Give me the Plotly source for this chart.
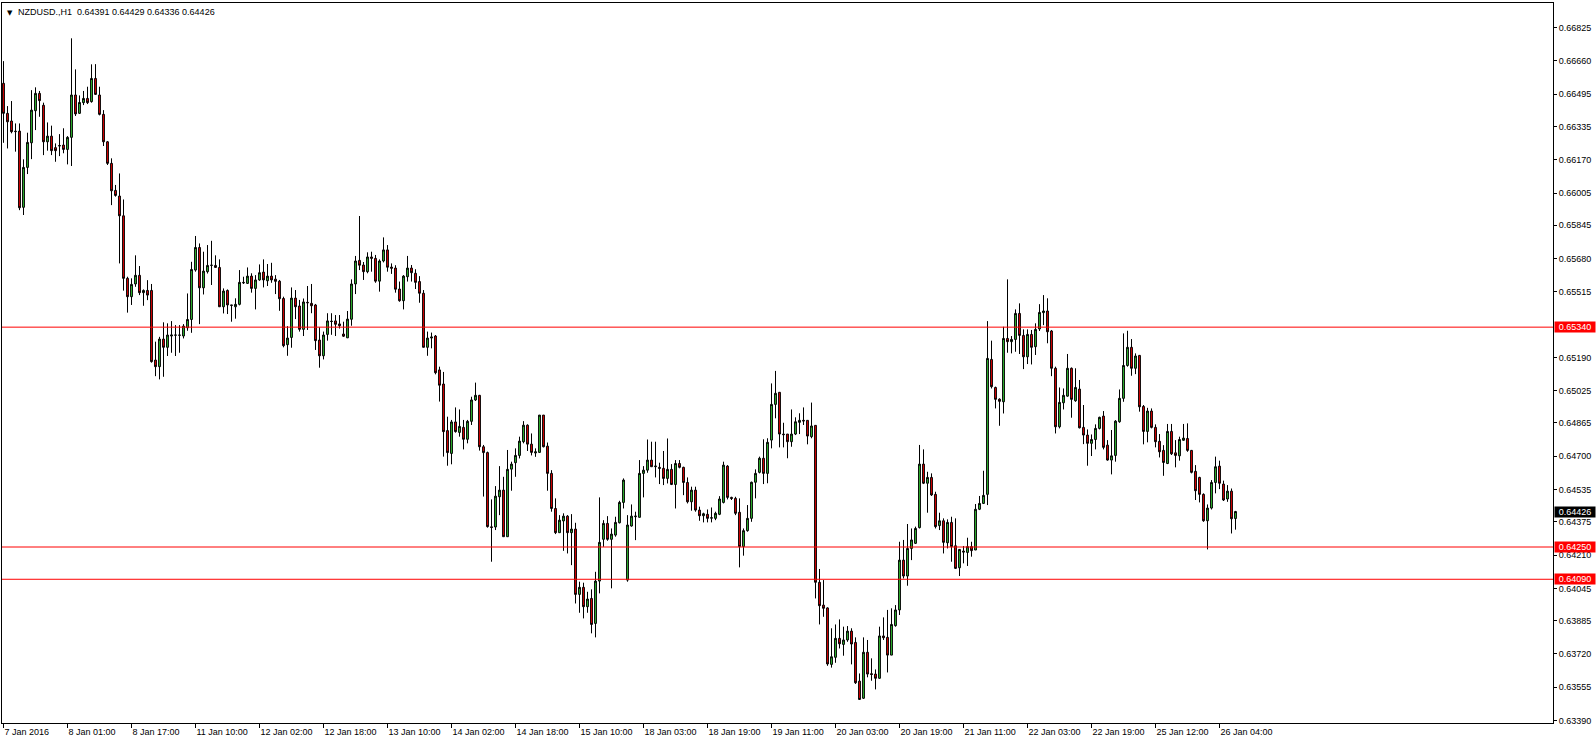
import plotly.graph_objects as go

# ---------------- data (NZDUSD H1) ----------------
opens = [
0.66549,0.66400,0.66362,0.66309,0.66312,0.65934,0.66132,0.66254,0.66413,0.66499,
0.66440,0.66259,0.66287,0.66230,0.66238,0.66243,0.66221,0.66281,0.66491,0.66400,
0.66453,0.66474,0.66458,0.66573,0.66491,0.66395,0.66259,0.66152,0.66018,0.65990,
0.65892,0.65582,0.65491,0.65554,0.65597,0.65511,0.65522,0.65522,0.65177,0.65144,
0.65281,0.65240,0.65296,0.65300,0.65301,0.65296,0.65337,0.65378,0.65623,0.65735,
0.65535,0.65615,0.65646,0.65646,0.65636,0.65441,0.65522,0.65450,0.65441,0.65453,
0.65562,0.65557,0.65593,0.65532,0.65574,0.65613,0.65570,0.65593,0.65578,0.65568,
0.65482,0.65253,0.65289,0.65484,0.65445,0.65329,0.65463,0.65458,0.65450,0.65276,
0.65198,0.65304,0.65370,0.65371,0.65356,0.65306,0.65287,0.65379,0.65554,0.65671,
0.65648,0.65615,0.65688,0.65681,0.65568,0.65668,0.65723,0.65638,0.65633,0.65529,
0.65471,0.65590,0.65633,0.65607,0.65566,0.65508,0.65240,0.65286,0.65296,0.65128,
0.65058,0.64827,0.64714,0.64870,0.64818,0.64843,0.64784,0.64873,0.64979,0.65002,
0.64747,0.64718,0.64350,0.64349,0.64499,0.64532,0.64301,0.64636,0.64668,0.64704,
0.64772,0.64854,0.64760,0.64716,0.64719,0.64904,0.64750,0.64615,0.64441,0.64321,
0.64379,0.64403,0.64321,0.64339,0.64015,0.64050,0.63954,0.63995,0.63871,0.64081,
0.64288,0.64367,0.64288,0.64309,0.64370,0.64471,0.64086,0.64354,0.64400,0.64397,
0.64615,0.64631,0.64681,0.64648,0.64645,0.64640,0.64590,0.64635,0.64560,0.64664,
0.64645,0.64570,0.64474,0.64532,0.64433,0.64405,0.64412,0.64393,0.64392,0.64412,
0.64471,0.64651,0.64496,0.64491,0.64422,0.64252,0.64331,0.64392,0.64571,0.64620,
0.64690,0.64615,0.64780,0.64957,0.65017,0.64810,0.64810,0.64772,0.64810,0.64868,
0.64878,0.64878,0.64797,0.64853,0.64075,0.63962,0.63948,0.63668,0.63703,0.63797,
0.63767,0.63789,0.63833,0.63777,0.63585,0.63500,0.63728,0.63622,0.63620,0.63599,
0.63809,0.63802,0.63714,0.63860,0.63938,0.64185,0.64106,0.64243,0.64268,0.64346,
0.64661,0.64566,0.64595,0.64511,0.64356,0.64380,0.64271,0.64372,0.64256,0.64147,
0.64230,0.64223,0.64252,0.64235,0.64437,0.64466,0.64511,0.65180,0.65041,0.64983,
0.64970,0.65284,0.65268,0.65279,0.65408,0.65299,0.65193,0.65304,0.65243,0.65331,
0.65412,0.65420,0.65321,0.65136,0.64846,0.64965,0.64998,0.65136,0.64975,0.65033,
0.64843,0.64805,0.64764,0.64783,0.64838,0.64899,0.64755,0.64681,0.64704,0.64871,
0.64987,0.65150,0.65240,0.65136,0.65200,0.64947,0.64823,0.64924,0.64843,0.64774,
0.64729,0.64664,0.64823,0.64717,0.64702,0.64779,0.64788,0.64729,0.64625,0.64595,
0.64511,0.64380,0.64443,0.64570,0.64651,0.64562,0.64488,0.64527,0.64391,
]

highs = [
0.66659,0.66436,0.66461,0.66350,0.66350,0.66172,0.66304,0.66515,0.66529,0.66511,
0.66453,0.66355,0.66339,0.66251,0.66297,0.66326,0.66287,0.66772,0.66618,0.66489,
0.66511,0.66532,0.66643,0.66644,0.66532,0.66416,0.66263,0.66177,0.66045,0.66102,
0.65973,0.65590,0.65582,0.65696,0.65643,0.65527,0.65573,0.65554,0.65268,0.65292,
0.65364,0.65359,0.65370,0.65350,0.65350,0.65355,0.65507,0.65664,0.65792,0.65755,
0.65714,0.65747,0.65768,0.65696,0.65676,0.65532,0.65527,0.65450,0.65483,0.65623,
0.65590,0.65636,0.65607,0.65598,0.65651,0.65676,0.65653,0.65659,0.65598,0.65574,
0.65491,0.65345,0.65537,0.65524,0.65475,0.65482,0.65544,0.65554,0.65455,0.65339,
0.65318,0.65409,0.65409,0.65400,0.65400,0.65367,0.65420,0.65577,0.65693,0.65891,
0.65663,0.65711,0.65714,0.65698,0.65676,0.65785,0.65747,0.65656,0.65647,0.65566,
0.65598,0.65693,0.65648,0.65627,0.65593,0.65524,0.65318,0.65313,0.65301,0.65144,
0.65118,0.64896,0.64880,0.64942,0.64932,0.64880,0.64880,0.64995,0.65065,0.65004,
0.64756,0.64723,0.64486,0.64552,0.64651,0.64598,0.64731,0.64673,0.64739,0.64797,
0.64874,0.64858,0.64813,0.64739,0.64904,0.64904,0.64768,0.64631,0.64491,0.64408,
0.64417,0.64408,0.64413,0.64370,0.64078,0.64073,0.64028,0.64040,0.64127,0.64496,
0.64383,0.64403,0.64342,0.64400,0.64479,0.64590,0.64408,0.64461,0.64425,0.64681,
0.64651,0.64783,0.64772,0.64772,0.64668,0.64726,0.64788,0.64661,0.64681,0.64681,
0.64648,0.64595,0.64549,0.64549,0.64450,0.64420,0.64436,0.64446,0.64425,0.64502,
0.64673,0.64656,0.64499,0.64499,0.64491,0.64342,0.64458,0.64574,0.64635,0.64698,
0.64784,0.64789,0.65061,0.65123,0.65017,0.64866,0.64810,0.64932,0.64893,0.64913,
0.64942,0.64878,0.64966,0.64853,0.64141,0.64086,0.63951,0.63847,0.63866,0.63891,
0.63855,0.63858,0.63847,0.63802,0.63623,0.63802,0.63789,0.63698,0.63643,0.63855,
0.63901,0.63938,0.63946,0.63962,0.64276,0.64285,0.64364,0.64342,0.64351,0.64756,
0.64734,0.64623,0.64615,0.64524,0.64420,0.64392,0.64387,0.64400,0.64392,0.64240,
0.64255,0.64296,0.64276,0.64463,0.64503,0.64628,0.65370,0.65273,0.65045,0.64987,
0.65342,0.65577,0.65296,0.65428,0.65458,0.65329,0.65329,0.65326,0.65359,0.65454,
0.65499,0.65483,0.65326,0.65144,0.65041,0.65036,0.65207,0.65140,0.65136,0.65078,
0.64954,0.64833,0.64808,0.64858,0.64896,0.64924,0.64780,0.64830,0.64879,0.65031,
0.65309,0.65322,0.65281,0.65210,0.65202,0.64954,0.64940,0.64937,0.64858,0.64810,
0.64755,0.64860,0.64860,0.64780,0.64797,0.64860,0.64863,0.64731,0.64656,0.64598,
0.64516,0.64461,0.64582,0.64698,0.64678,0.64579,0.64557,0.64540,0.64429,
]

lows = [
0.66254,0.66226,0.66301,0.66210,0.65920,0.65896,0.66099,0.66173,0.66317,0.66383,
0.66193,0.66215,0.66193,0.66160,0.66188,0.66202,0.66147,0.66139,0.66387,0.66397,
0.66441,0.66446,0.66453,0.66491,0.66390,0.66238,0.66144,0.65945,0.65987,0.65656,
0.65521,0.65412,0.65450,0.65540,0.65499,0.65446,0.65474,0.65164,0.65097,0.65081,
0.65094,0.65197,0.65213,0.65197,0.65213,0.65284,0.65322,0.65312,0.65615,0.65355,
0.65502,0.65606,0.65549,0.65635,0.65441,0.65408,0.65405,0.65367,0.65382,0.65448,
0.65554,0.65554,0.65511,0.65428,0.65570,0.65537,0.65544,0.65560,0.65504,0.65421,
0.65240,0.65198,0.65238,0.65380,0.65318,0.65296,0.65326,0.65409,0.65227,0.65139,
0.65180,0.65273,0.65302,0.65296,0.65333,0.65291,0.65286,0.65347,0.65504,0.65623,
0.65574,0.65607,0.65615,0.65560,0.65516,0.65661,0.65615,0.65604,0.65511,0.65466,
0.65428,0.65566,0.65566,0.65529,0.65461,0.65240,0.65198,0.65235,0.65106,0.64971,
0.64698,0.64653,0.64660,0.64817,0.64797,0.64734,0.64764,0.64855,0.64974,0.64728,
0.64500,0.64346,0.64177,0.64334,0.64408,0.64301,0.64301,0.64529,0.64598,0.64689,
0.64764,0.64726,0.64704,0.64697,0.64717,0.64744,0.64529,0.64425,0.64314,0.64321,
0.64231,0.64218,0.64160,0.63970,0.63924,0.63896,0.63924,0.63822,0.63802,0.64020,
0.64251,0.64281,0.64045,0.64301,0.64367,0.64441,0.64078,0.64351,0.64284,0.64397,
0.64496,0.64618,0.64648,0.64595,0.64562,0.64557,0.64565,0.64557,0.64441,0.64640,
0.64507,0.64466,0.64430,0.64425,0.64380,0.64372,0.64372,0.64372,0.64383,0.64408,
0.64466,0.64486,0.64483,0.64408,0.64149,0.64207,0.64326,0.64375,0.64491,0.64615,
0.64562,0.64566,0.64739,0.64888,0.64744,0.64744,0.64690,0.64747,0.64805,0.64810,
0.64855,0.64759,0.64789,0.63995,0.63866,0.63904,0.63661,0.63652,0.63676,0.63747,
0.63711,0.63780,0.63668,0.63571,0.63494,0.63497,0.63604,0.63587,0.63544,0.63597,
0.63789,0.63628,0.63714,0.63855,0.63913,0.64094,0.64058,0.64185,0.64265,0.64342,
0.64562,0.64420,0.64503,0.64342,0.64334,0.64218,0.64243,0.64177,0.64141,0.64106,
0.64169,0.64156,0.64202,0.64235,0.64433,0.64463,0.64458,0.65036,0.64937,0.64851,
0.64912,0.65213,0.65210,0.65218,0.65207,0.65132,0.65157,0.65155,0.65202,0.65321,
0.65350,0.65260,0.65097,0.64813,0.64838,0.64932,0.64995,0.64891,0.64970,0.64838,
0.64760,0.64653,0.64701,0.64734,0.64833,0.64734,0.64678,0.64610,0.64673,0.64866,
0.64970,0.65144,0.65099,0.65107,0.64921,0.64759,0.64769,0.64838,0.64744,0.64694,
0.64603,0.64661,0.64706,0.64645,0.64678,0.64777,0.64722,0.64615,0.64483,0.64471,
0.64375,0.64238,0.64436,0.64516,0.64537,0.64478,0.64474,0.64317,0.64336,
]

closes = [
0.66400,0.66358,0.66309,0.66311,0.65932,0.66132,0.66256,0.66416,0.66499,0.66463,
0.66259,0.66287,0.66215,0.66215,0.66240,0.66221,0.66281,0.66491,0.66397,0.66454,
0.66474,0.66453,0.66573,0.66494,0.66395,0.66259,0.66152,0.66016,0.65993,0.65892,
0.65582,0.65491,0.65552,0.65597,0.65511,0.65522,0.65499,0.65169,0.65144,0.65281,
0.65240,0.65301,0.65301,0.65301,0.65300,0.65345,0.65378,0.65626,0.65735,0.65535,
0.65618,0.65646,0.65647,0.65636,0.65441,0.65519,0.65450,0.65448,0.65453,0.65562,
0.65560,0.65593,0.65532,0.65574,0.65610,0.65574,0.65593,0.65574,0.65567,0.65481,
0.65248,0.65286,0.65484,0.65441,0.65329,0.65465,0.65461,0.65446,0.65273,0.65198,
0.65301,0.65371,0.65368,0.65354,0.65347,0.65295,0.65380,0.65554,0.65668,0.65647,
0.65615,0.65688,0.65681,0.65568,0.65668,0.65723,0.65637,0.65632,0.65528,0.65471,
0.65593,0.65633,0.65610,0.65562,0.65508,0.65240,0.65286,0.65291,0.65114,0.65052,
0.64822,0.64718,0.64870,0.64822,0.64848,0.64784,0.64873,0.64979,0.65002,0.64747,
0.64718,0.64351,0.64347,0.64502,0.64532,0.64301,0.64635,0.64661,0.64704,0.64775,
0.64854,0.64760,0.64719,0.64722,0.64904,0.64747,0.64615,0.64441,0.64321,0.64383,
0.64403,0.64321,0.64339,0.64015,0.64050,0.63954,0.63992,0.63866,0.64081,0.64273,
0.64367,0.64288,0.64314,0.64372,0.64471,0.64582,0.64359,0.64403,0.64403,0.64615,
0.64631,0.64681,0.64648,0.64651,0.64640,0.64590,0.64635,0.64560,0.64664,0.64645,
0.64570,0.64474,0.64532,0.64433,0.64405,0.64415,0.64392,0.64395,0.64417,0.64488,
0.64656,0.64496,0.64491,0.64417,0.64252,0.64331,0.64392,0.64571,0.64615,0.64690,
0.64615,0.64769,0.64957,0.65012,0.64810,0.64807,0.64772,0.64810,0.64871,0.64878,
0.64875,0.64800,0.64850,0.64075,0.63959,0.63946,0.63670,0.63706,0.63797,0.63770,
0.63789,0.63833,0.63769,0.63577,0.63494,0.63728,0.63620,0.63618,0.63599,0.63809,
0.63800,0.63714,0.63866,0.63938,0.64185,0.64106,0.64243,0.64285,0.64342,0.64661,
0.64566,0.64595,0.64508,0.64351,0.64380,0.64273,0.64372,0.64252,0.64144,0.64238,
0.64225,0.64252,0.64232,0.64437,0.64466,0.64506,0.65185,0.65045,0.64982,0.64972,
0.65284,0.65268,0.65279,0.65408,0.65299,0.65193,0.65304,0.65240,0.65329,0.65413,
0.65420,0.65317,0.65136,0.64846,0.64967,0.65002,0.65136,0.64982,0.65041,0.64841,
0.64805,0.64764,0.64783,0.64838,0.64893,0.64744,0.64681,0.64702,0.64874,0.64987,
0.65150,0.65240,0.65136,0.65197,0.64945,0.64823,0.64924,0.64843,0.64772,0.64722,
0.64669,0.64823,0.64712,0.64704,0.64783,0.64790,0.64729,0.64620,0.64529,0.64511,
0.64380,0.64443,0.64570,0.64648,0.64566,0.64483,0.64527,0.64390,0.64426,
]

assert len(opens) == len(highs) == len(lows) == len(closes)

bar_index = list(range(len(opens)))

time_tick_bars = [0, 16, 32, 48, 64, 80, 96, 112, 128, 144,
                  160, 176, 192, 208, 224, 240, 256, 272, 288, 304]
time_tick_labels = ["7 Jan 2016", "8 Jan 01:00", "8 Jan 17:00", "11 Jan 10:00",
                    "12 Jan 02:00", "12 Jan 18:00", "13 Jan 10:00", "14 Jan 02:00",
                    "14 Jan 18:00", "15 Jan 10:00", "18 Jan 03:00", "18 Jan 19:00",
                    "19 Jan 11:00", "20 Jan 03:00", "20 Jan 19:00", "21 Jan 11:00",
                    "22 Jan 03:00", "22 Jan 19:00", "25 Jan 12:00", "26 Jan 04:00"]

price_ticks = [0.66825, 0.66660, 0.66495, 0.66335, 0.66170, 0.66005, 0.65845,
               0.65680, 0.65515, 0.65190, 0.65025, 0.64865, 0.64700, 0.64535,
               0.64375, 0.64210, 0.64045, 0.63885, 0.63720, 0.63555, 0.63390]

level_lines = [0.65340, 0.64250, 0.64090]
last_price = 0.64426

title_text = "NZDUSD.,H1  0.64391 0.64429 0.64336 0.64426"

# ---------------- styling ----------------
FONT = "Tahoma, 'Liberation Sans', Arial, sans-serif"
BULL = "#33c833"
BEAR = "#f00000"
LEVEL = "#ff0000"

fig = go.Figure()
fig.add_trace(go.Candlestick(
    x=bar_index, open=opens, high=highs, low=lows, close=closes,
    increasing=dict(fillcolor=BULL, line=dict(color="black", width=1)),
    decreasing=dict(fillcolor=BEAR, line=dict(color="black", width=1)),
    whiskerwidth=0, showlegend=False, hoverinfo="skip",
))

for lv in level_lines:
    fig.add_shape(type="line", xref="paper", x0=0, x1=1, yref="y", y0=lv, y1=lv,
                  line=dict(color=LEVEL, width=1), layer="above")
    fig.add_annotation(xref="paper", x=1, xanchor="left", xshift=1,
                       yref="y", y=lv, yanchor="middle",
                       text=f"{lv:.5f}", showarrow=False,
                       font=dict(family=FONT, size=9, color="white"),
                       bgcolor=LEVEL, width=40, height=10, borderpad=0, align="center")

fig.add_annotation(xref="paper", x=1, xanchor="left", xshift=1,
                   yref="y", y=last_price, yanchor="middle",
                   text=f"{last_price:.5f}", showarrow=False,
                   font=dict(family=FONT, size=9, color="white"),
                   bgcolor="black", width=40, height=10, borderpad=0, align="center")

fig.add_annotation(xref="paper", x=0, xanchor="left", xshift=3,
                   yref="paper", y=1, yanchor="top", yshift=-4,
                   text="▼", showarrow=False,
                   font=dict(family="DejaVu Sans", size=7, color="black"))
fig.add_annotation(xref="paper", x=0, xanchor="left", xshift=14,
                   yref="paper", y=1, yanchor="top", yshift=-2,
                   text=title_text, showarrow=False,
                   font=dict(family=FONT, size=9, color="black"))

fig.update_layout(
    width=1596, height=744,
    margin=dict(l=2, r=43, t=3, b=21, pad=0),
    paper_bgcolor="white", plot_bgcolor="white",
    boxgap=0.35,
    font=dict(family=FONT, size=9, color="black"),
    xaxis=dict(
        range=[-0.375, 387.375], rangeslider=dict(visible=False),
        tickmode="array", tickvals=time_tick_bars, ticktext=time_tick_labels,
        ticks="outside", ticklen=4, tickcolor="black", tickwidth=1,
        ticklabelposition="outside right",
        showgrid=False, zeroline=False,
        showline=True, linecolor="black", linewidth=1, mirror=True,
        tickfont=dict(family=FONT, size=9, color="black"),
    ),
    yaxis=dict(
        range=[0.633774, 0.669471], side="right",
        tickmode="array", tickvals=price_ticks, tickformat=".5f",
        ticks="outside", ticklen=3, tickcolor="black", tickwidth=1,
        showgrid=False, zeroline=False,
        showline=True, linecolor="black", linewidth=1, mirror=True,
        tickfont=dict(family=FONT, size=9, color="black"),
    ),
)

fig.write_html("out.html", config={"displayModeBar": False},
               post_script="document.body.style.margin='0';document.body.style.overflow='hidden';")
